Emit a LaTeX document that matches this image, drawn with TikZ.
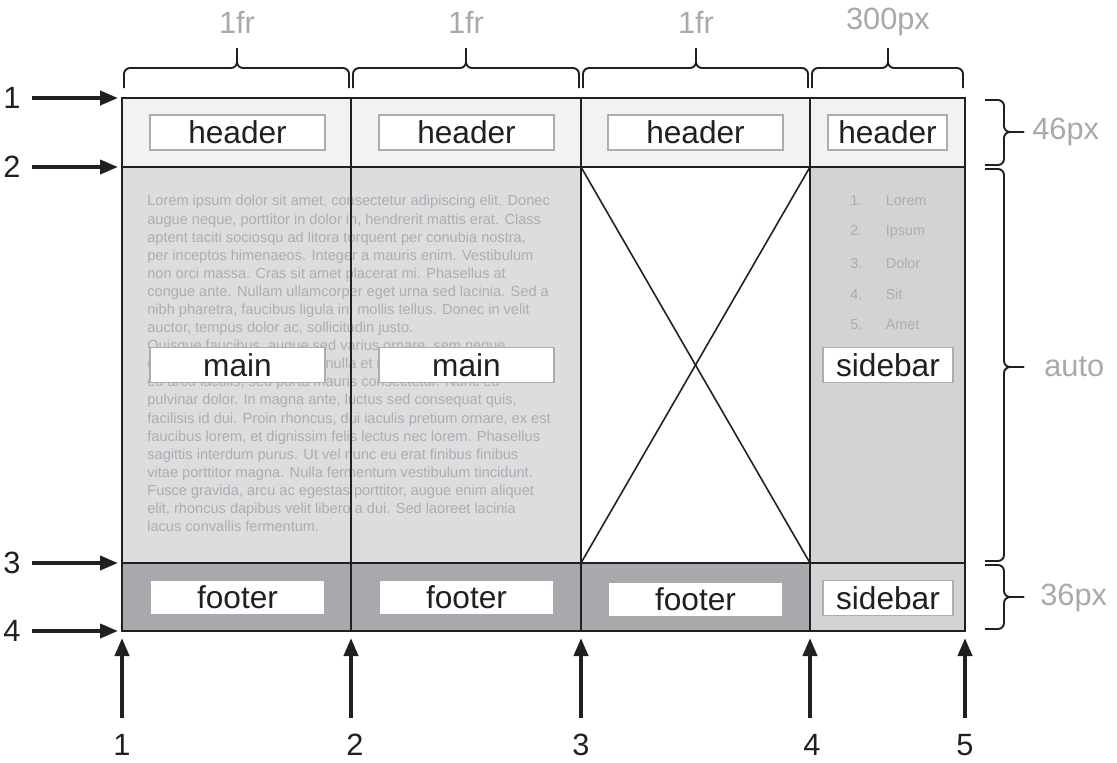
\documentclass[tikz,border=0pt]{standalone}
\usepackage{fontspec}
\setmainfont{Liberation Sans}
\usetikzlibrary{arrows.meta,positioning}
\definecolor{ink}{HTML}{231F20}
\definecolor{hdrbg}{HTML}{F1F2F2}
\definecolor{mainbg}{HTML}{DCDDDE}
\definecolor{sidebg}{HTML}{D1D3D4}
\definecolor{footbg}{HTML}{A7A9AC}
\definecolor{dim}{HTML}{A7A9AC}
\definecolor{filler}{HTML}{ABADB0}
\definecolor{edge}{HTML}{ABADB0}

\begin{document}
\begin{tikzpicture}[
    x=0.02cm, y=-0.02cm,
    grid/.style={draw=ink, line width=1.2pt},
    cross/.style={draw=ink, line width=0.9pt},
    tag/.style={draw=edge, line width=0.8pt, fill=white, inner sep=0pt, minimum height=0.7cm,
                text=ink, font=\fontsize{18}{20}\selectfont},
    plain/.style={tag, draw=none},
    dimlbl/.style={text=dim, inner sep=0pt, font=\fontsize{17.5}{20}\selectfont},
    linelbl/.style={text=ink, inner sep=0pt, font=\fontsize{17.5}{20}\selectfont},
    listtxt/.style={anchor=west, inner sep=0pt, text=filler, font=\fontsize{8.2}{10}\selectfont},
    brc/.style={draw=ink, line width=1.1pt, rounded corners=0.12cm},
    arr/.style={-{Triangle[length=0.36cm,width=0.28cm]}, draw=ink, line width=2.2pt}
]
\useasboundingbox (0,0) rectangle (1117,762);

% cell backgrounds
\fill[hdrbg] (122,98) rectangle (965,167);
\fill[mainbg] (122,167) rectangle (581,563);
\fill[white] (581,167) rectangle (810,563);
\fill[sidebg] (810,167) rectangle (965,563);
\fill[footbg] (122,563) rectangle (810,631);
\fill[sidebg] (810,563) rectangle (965,631);

% filler text of the main area
\node[anchor=north west, inner sep=0pt, align=left, text=filler,
      font=\fontsize{8.3}{10.3}\selectfont] (copy) at (147,195) {%
Lorem ipsum dolor sit amet, consectetur adipiscing elit. Donec\\
augue neque, porttitor in dolor in, hendrerit mattis erat. Class\\
aptent taciti sociosqu ad litora torquent per conubia nostra,\\
per inceptos himenaeos. Integer a mauris enim. Vestibulum\\
non orci massa. Cras sit amet placerat mi. Phasellus at\\
congue ante. Nullam ullamcorper eget urna sed lacinia. Sed a\\
nibh pharetra, faucibus ligula in, mollis tellus. Donec in velit\\
auctor, tempus dolor ac, sollicitudin justo.\\
Quisque faucibus, augue sed varius ornare, sem neque\\
elementum mi, non fringilla nulla et ultrices ut\\
eu arcu iaculis, sed porta mauris consectetur. Nunc eu\\
pulvinar dolor. In magna ante, luctus sed consequat quis,\\
facilisis id dui. Proin rhoncus, dui iaculis pretium ornare, ex est\\
faucibus lorem, et dignissim felis lectus nec lorem. Phasellus\\
sagittis interdum purus. Ut vel nunc eu erat finibus finibus\\
vitae porttitor magna. Nulla fermentum vestibulum tincidunt.\\
Fusce gravida, arcu ac egestas porttitor, augue enim aliquet\\
elit, rhoncus dapibus velit libero a dui. Sed laoreet lacinia\\
lacus convallis fermentum.};

% sidebar list
\node[listtxt] (li1) at (850,201) {1.\hspace{0.47cm}Lorem};
\node[listtxt] (li2) at (850,232) {2.\hspace{0.47cm}Ipsum};
\node[listtxt] (li3) at (850,263) {3.\hspace{0.47cm}Dolor};
\node[listtxt] (li4) at (850,294) {4.\hspace{0.47cm}Sit};
\node[listtxt] (li5) at (850,325) {5.\hspace{0.47cm}Amet};

% grid lines
\coordinate (r1) at (122,98);
\coordinate (r2) at (122,167);
\coordinate (r3) at (122,563);
\coordinate (r4) at (122,631);
\coordinate (c1) at (122,631);
\coordinate (c2) at (351,631);
\coordinate (c3) at (581,631);
\coordinate (c4) at (810,631);
\coordinate (c5) at (965,631);
\draw[grid] (122,98) rectangle (965,631);
\draw[grid] (122,167) -- (965,167);
\draw[grid] (122,563) -- (965,563);
\draw[grid] (351,98) -- (c2);
\draw[grid, line width=1.5pt] (351,167) -- (351,563);
\draw[grid] (581,98) -- (c3);
\draw[grid] (810,98) -- (c4);
\draw[cross] (581,167) -- (810,563);
\draw[cross] (810,167) -- (581,563);

% area names
\node[tag, minimum width=3.5cm] (hd1) at (237.5,132.5) {header};
\node[tag, minimum width=3.5cm] (hd2) at (466.5,132.5) {header};
\node[tag, minimum width=3.5cm] (hd3) at (695.5,132.5) {header};
\node[tag, minimum width=2.38cm] (hd4) at (887.5,132.5) {header};
\node[tag, minimum width=3.5cm] (mn1) at (237.5,365) {main};
\node[tag, minimum width=3.5cm] (mn2) at (466.5,365) {main};
\node[tag, minimum width=2.6cm] (sb) at (888,365) {sidebar};
\node[plain, minimum width=3.46cm, minimum height=0.66cm] (ft1) at (237.5,597.5) {footer};
\node[plain, minimum width=3.46cm, minimum height=0.66cm] (ft2) at (466.5,597.5) {footer};
\node[plain, minimum width=3.46cm, minimum height=0.66cm] (ft3) at (695.5,599.5) {footer};
\node[tag, minimum width=2.6cm] (sbft) at (888,598) {sidebar};

% track sizes
\draw[brc] (124,88) -- (124,68) -- (237,68) -- (237,48);
\draw[brc] (349,88) -- (349,68) -- (237,68) -- (237,48);
\draw[brc] (353,88) -- (353,68) -- (466,68) -- (466,48);
\draw[brc] (579,88) -- (579,68) -- (466,68) -- (466,48);
\draw[brc] (583,88) -- (583,68) -- (696,68) -- (696,48);
\draw[brc] (808,88) -- (808,68) -- (696,68) -- (696,48);
\draw[brc] (812,88) -- (812,68) -- (888,68) -- (888,48);
\draw[brc] (963,88) -- (963,68) -- (888,68) -- (888,48);
\node[dimlbl] (w1) at (237,22) {1fr};
\node[dimlbl] (w2) at (466,22) {1fr};
\node[dimlbl] (w3) at (696,22) {1fr};
\node[dimlbl] (w4) at (888,22) {300px};
\draw[brc] (985,100) -- (1004,100) -- (1004,132) -- (1024,132);
\draw[brc] (985,165) -- (1004,165) -- (1004,132) -- (1024,132);
\draw[brc] (985,169) -- (1004,169) -- (1004,367) -- (1024,367);
\draw[brc] (985,561) -- (1004,561) -- (1004,367) -- (1024,367);
\draw[brc] (985,565) -- (1004,565) -- (1004,597) -- (1024,597);
\draw[brc] (985,629) -- (1004,629) -- (1004,597) -- (1024,597);
\node[dimlbl, anchor=west] (h1) at (1032,132) {46px};
\node[dimlbl, anchor=west] (h2) at (1044,367) {auto};
\node[dimlbl, anchor=west] (h3) at (1040,598) {36px};

% line numbers
\node[linelbl] (rl1) at (12,98) {1};
\node[linelbl] (rl2) at (12,167) {2};
\node[linelbl] (rl3) at (12,563) {3};
\node[linelbl] (rl4) at (12,631) {4};
\draw[arr, shorten <=0.23cm, shorten >=0.08cm] (rl1) -- (r1);
\draw[arr, shorten <=0.23cm, shorten >=0.08cm] (rl2) -- (r2);
\draw[arr, shorten <=0.23cm, shorten >=0.08cm] (rl3) -- (r3);
\draw[arr, shorten <=0.23cm, shorten >=0.08cm] (rl4) -- (r4);
\node[linelbl] (cl1) at (122,745) {1};
\node[linelbl] (cl2) at (355,745) {2};
\node[linelbl] (cl3) at (581,745) {3};
\node[linelbl] (cl4) at (812,745) {4};
\node[linelbl] (cl5) at (965,745) {5};
\draw[arr, shorten <=0.32cm, shorten >=0.14cm] (cl1.north -| c1) -- (c1);
\draw[arr, shorten <=0.32cm, shorten >=0.14cm] (cl2.north -| c2) -- (c2);
\draw[arr, shorten <=0.32cm, shorten >=0.14cm] (cl3.north -| c3) -- (c3);
\draw[arr, shorten <=0.32cm, shorten >=0.14cm] (cl4.north -| c4) -- (c4);
\draw[arr, shorten <=0.32cm, shorten >=0.14cm] (cl5.north -| c5) -- (c5);
\end{tikzpicture}
\end{document}
